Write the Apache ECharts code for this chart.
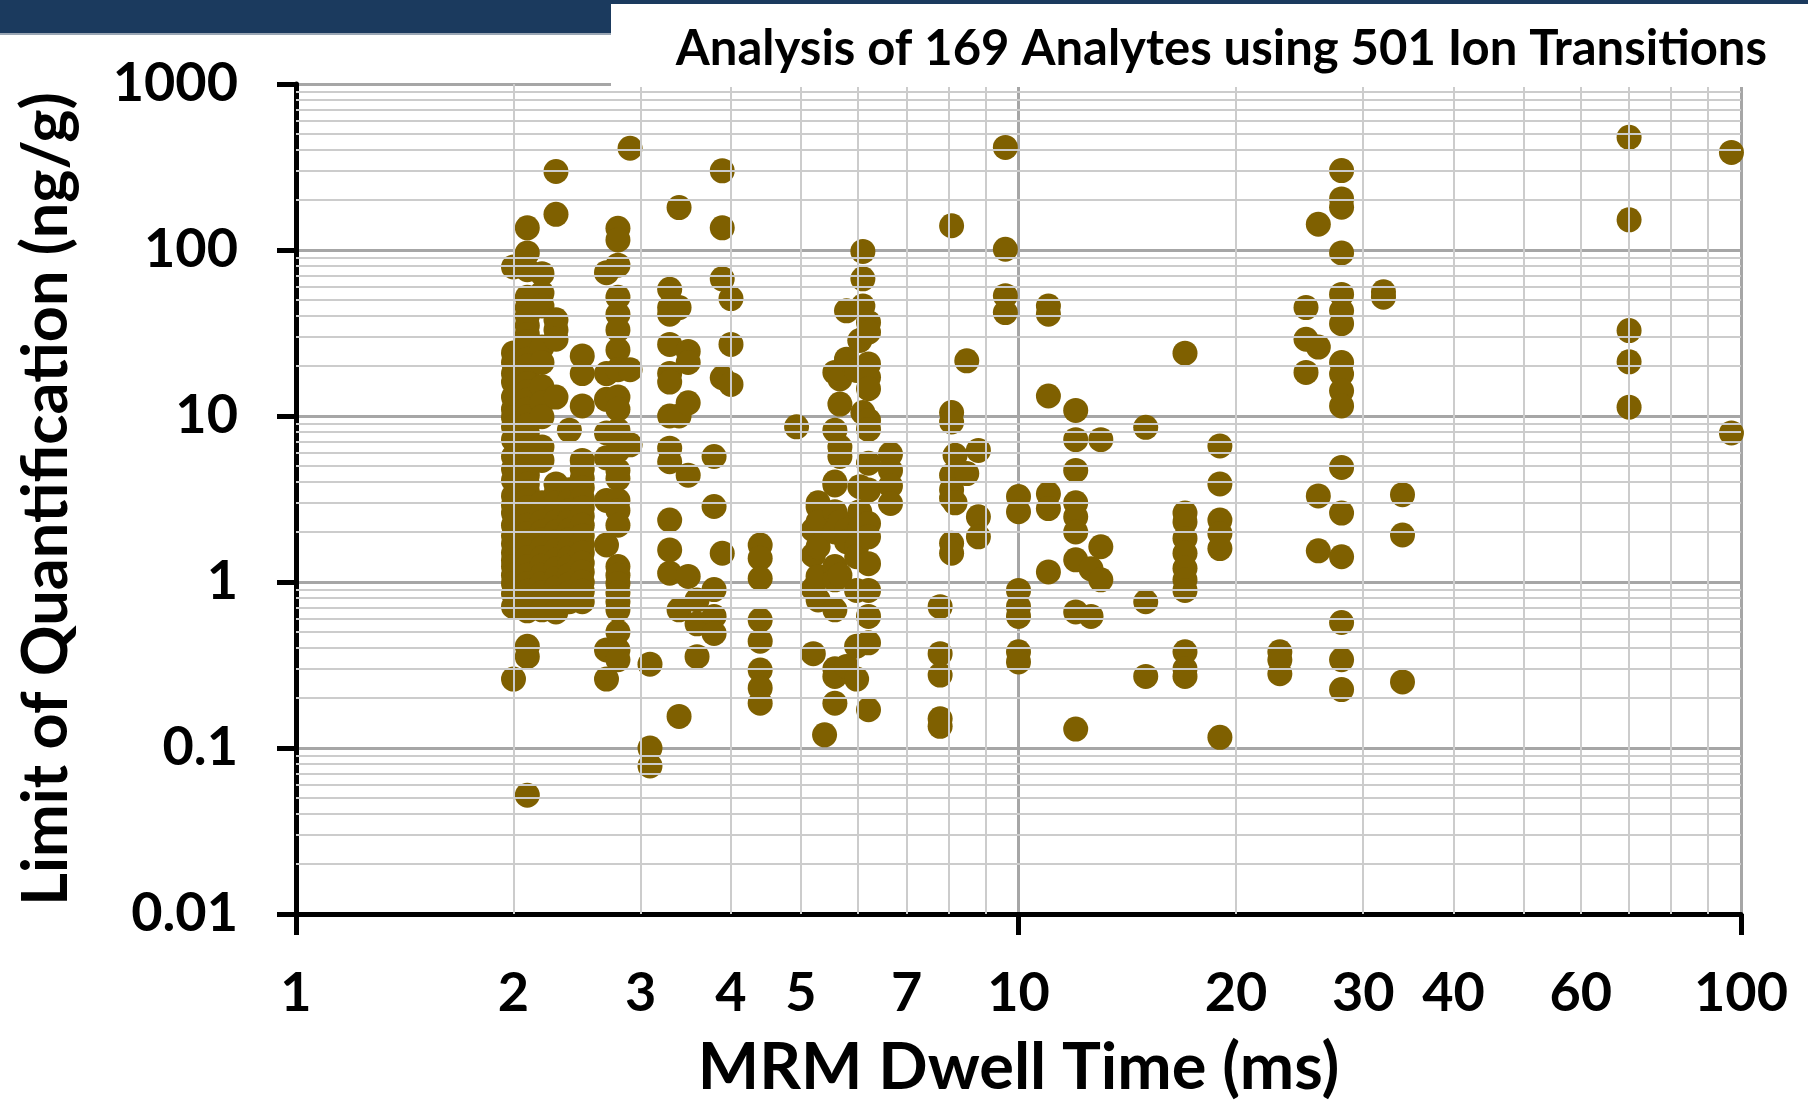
<!DOCTYPE html>
<html>
<head>
<meta charset="utf-8">
<title>LOQ vs MRM Dwell Time</title>
<script src="https://cdn.jsdelivr.net/npm/echarts@6/dist/echarts.min.js"></script>
<style>
  html, body { margin: 0; padding: 0; background: #fff; }
  #chart { width: 1808px; height: 1100px; }
</style>
</head>
<body>
<div id="chart"></div>
<script>
// dwell time (ms) of each column of points
const dwellTimes = [
  2.0, 2.09, 2.19, 2.29, 2.39, 2.49, 2.69, 2.79, 2.9, 3.09,
  3.29, 3.39, 3.49, 3.59, 3.79, 3.89, 4.0, 4.39, 4.93, 5.2,
  5.28, 5.39, 5.57, 5.66, 5.78, 5.97, 6.03, 6.09, 6.2, 6.65,
  7.79, 8.08, 8.17, 8.48, 8.8, 9.59, 10.0, 11.0, 12.0, 12.6,
  13.0, 15.0, 17.0, 19.0, 23.0, 25.0, 26.0, 28.0, 32.0, 34.0,
  70.0, 97.0
];

// limit of quantification (ng/g) for each dwell time above
const loqValues = [
  [79, 24, 21, 18, 16, 13, 11, 9.8, 8.6, 7.2, 5.7, 4.8, 4.1, 3.3, 2.9, 2.6, 2.2, 1.9, 1.7, 1.5, 1.35, 1.24, 1.1, 0.98, 0.85, 0.71, 0.26],
  [136, 96, 76, 52, 45, 40, 35, 31, 28, 25, 22, 20, 17.5, 15.7, 14, 12.5, 11, 9.9, 8.8, 7.9, 7, 6.2, 5.5, 5.0, 4.4, 3.9, 3.5, 3.1, 2.8, 2.5, 2.2, 1.96, 1.75, 1.56, 1.4, 1.24, 1.1, 0.98, 0.88, 0.78, 0.67, 0.41, 0.355, 0.052],
  [72, 55, 46, 26, 21, 15, 12, 9.9, 6.5, 5.4, 3.0, 2.6, 2.3, 2.0, 1.8, 1.6, 1.4, 1.25, 1.1, 0.98, 0.86, 0.76, 0.68],
  [297, 164, 38, 33, 29, 13, 3.9, 3.4, 3.0, 2.6, 2.3, 2.0, 1.75, 1.55, 1.35, 1.2, 1.05, 0.92, 0.8, 0.66],
  [8.2, 3.6, 3.1, 2.7, 2.35, 2.05, 1.8, 1.6, 1.4, 1.25, 1.1, 0.97, 0.86, 0.76],
  [23, 18, 11.5, 5.4, 4.8, 4.2, 3.7, 3.2, 2.8, 2.5, 2.2, 1.9, 1.7, 1.5, 1.3, 1.15, 1.0, 0.88, 0.76],
  [73, 18, 12.6, 7.9, 5.6, 3.1, 1.67, 0.39, 0.26],
  [135, 115, 81, 52, 41, 33, 25, 19, 13, 11, 8.2, 6.2, 4.7, 4.2, 3.1, 2.7, 2.2, 1.24, 1.1, 0.98, 0.86, 0.76, 0.68, 0.5, 0.39, 0.34],
  [410, 19, 6.7],
  [0.32, 0.1, 0.078],
  [58, 45, 41, 27, 18, 16, 10, 6.4, 5.3, 2.36, 1.56, 1.13],
  [180, 45, 10, 0.68, 0.155],
  [24.5, 21, 12, 4.4, 1.08],
  [0.78, 0.56, 0.355],
  [5.7, 2.85, 0.9, 0.62, 0.49],
  [300, 136, 67, 17, 1.49],
  [51, 27, 15.5],
  [1.67, 1.39, 1.05, 0.59, 0.44, 0.295, 0.23, 0.186],
  [8.6],
  [2.06, 1.45, 0.91, 0.37],
  [3.0, 2.84, 2.3, 1.63, 1.08, 0.78],
  [0.12],
  [18.3, 8.2, 4.0, 3.84, 2.65, 2.0, 1.24, 1.03, 0.68, 0.3, 0.27, 0.186],
  [16.7, 11.8, 6.5, 5.7, 2.3, 1.1],
  [43, 22, 2.06, 1.75, 0.31],
  [18.8, 1.63, 1.42, 0.89, 0.41, 0.26],
  [28.5, 3.75, 2.65, 2.1],
  [98, 67, 46, 10.5],
  [36.6, 32, 20.6, 17.1, 14.6, 9.4, 8.3, 5.2, 3.58, 2.25, 1.87, 1.29, 0.89, 0.62, 0.43, 0.17],
  [5.9, 4.7, 3.8, 2.97],
  [0.71, 0.37, 0.275, 0.15, 0.135],
  [140, 10.5, 9.2, 4.4, 3.6, 3.2, 1.71, 1.49],
  [5.8, 3.0],
  [21.5, 4.5],
  [6.2, 2.47, 1.87],
  [415, 101, 53, 42],
  [3.27, 2.65, 0.89, 0.71, 0.62, 0.38, 0.33],
  [46, 41, 13.2, 3.4, 2.77, 1.15],
  [10.8, 7.2, 4.7, 3.0, 2.47, 2.0, 1.36, 0.66, 0.13],
  [1.2, 0.62],
  [7.2, 1.63, 1.03],
  [8.55, 0.76, 0.27],
  [23.9, 2.6, 2.3, 1.83, 1.49, 1.21, 1.03, 0.89, 0.38, 0.3, 0.27],
  [6.6, 3.9, 2.36, 1.96, 1.59, 0.116],
  [0.38, 0.34, 0.28],
  [45, 29, 18.3],
  [143, 26, 3.3, 1.54],
  [301, 203, 181, 96, 54, 43, 36, 21, 17.9, 14.2, 11.5, 4.9, 2.6, 1.42, 0.57, 0.34, 0.225],
  [56, 52],
  [3.36, 1.92, 0.25],
  [477, 152, 32.7, 21.2, 11.3],
  [387, 7.9]
];

// labels shown under the x axis
const xTickLabels = [1, 2, 3, 4, 5, 7, 10, 20, 30, 40, 60, 100];

const FONT = 'Lato, "Open Sans", "DejaVu Sans", sans-serif';
const MARKER_COLOR = '#7f6000';

// flatten into [x, y] pairs for the scatter series
const points = [];
dwellTimes.forEach((t, i) => {
  loqValues[i].forEach(v => points.push([t, v]));
});

// minor grid lines at 2..9 of every decade
const xMinor = [];
for (let d = 1; d < 100; d *= 10) {
  for (let m = 2; m <= 9; m++) xMinor.push(m * d);
}
const yMinor = [];
for (let e = -2; e < 3; e++) {
  for (let m = 2; m <= 9; m++) yMinor.push(+(m * Math.pow(10, e)).toPrecision(3));
}

const chart = echarts.init(document.getElementById('chart'), null, { renderer: 'canvas' });

const option = {
  animation: false,
  backgroundColor: '#fff',
  title: {
    text: 'Analysis of 169 Analytes using 501 Ion Transitions',
    right: 36,
    top: 20,
    z: 20,
    textStyle: { fontFamily: FONT, fontSize: 49, fontWeight: 'bold', color: '#000' }
  },
  graphic: [
    { type: 'rect', z: 10, shape: { x: 0, y: 0, width: 1808, height: 33 }, style: { fill: '#1b3a5e' } },
    { type: 'rect', z: 10, shape: { x: 0, y: 33, width: 611, height: 2 }, style: { fill: '#9aa6b4' } },
    { type: 'rect', z: 11, shape: { x: 611, y: 4, width: 1197, height: 83 }, style: { fill: '#fff' } }
  ],
  grid: { left: 296, right: 67, top: 84, bottom: 186, outerBoundsMode: 'none', containLabel: false },
  xAxis: {
    type: 'log',
    logBase: 10,
    min: 1,
    max: 100,
    name: 'MRM Dwell Time (ms)',
    nameLocation: 'middle',
    nameGap: 122,
    nameTextStyle: { fontFamily: FONT, fontSize: 65, fontWeight: 'bold', color: '#000' },
    axisLine: { lineStyle: { color: '#000', width: 5 } },
    axisTick: { show: true, length: 21, lineStyle: { color: '#000', width: 5 } },
    axisLabel: { show: false },
    splitLine: { show: true, lineStyle: { color: '#a6a6a6', width: 3 } }
  },
  yAxis: {
    type: 'log',
    logBase: 10,
    min: 0.01,
    max: 1000,
    name: 'Limit of Quantification (ng/g)',
    nameLocation: 'middle',
    nameGap: 218,
    nameTextStyle: { fontFamily: FONT, fontSize: 63, fontWeight: 'bold', color: '#000' },
    axisLine: { lineStyle: { color: '#000', width: 5 } },
    axisTick: { show: true, length: 19, lineStyle: { color: '#000', width: 5 } },
    axisLabel: {
      margin: 58,
      fontFamily: FONT,
      fontSize: 54,
      fontWeight: 'bold',
      color: '#000',
      formatter: v => (v >= 1 ? String(Math.round(v)) : String(+v.toFixed(2)))
    },
    splitLine: { show: true, lineStyle: { color: '#a6a6a6', width: 3 } }
  },
  series: [
    {
      // minor grid
      name: 'minorGrid',
      type: 'scatter',
      data: [],
      z: 1,
      silent: true,
      clip: false,
      markLine: {
        silent: true,
        symbol: 'none',
        label: { show: false },
        lineStyle: { color: '#cccccc', width: 2, type: 'solid' },
        data: xMinor.map(v => ({ xAxis: v })).concat(yMinor.map(v => ({ yAxis: v })))
      }
    },
    {
      // x tick labels
      name: 'xTicks',
      type: 'scatter',
      data: [],
      z: 1,
      silent: true,
      clip: false,
      markLine: {
        silent: true,
        symbol: 'none',
        lineStyle: { color: 'rgba(0,0,0,0)', width: 0 },
        label: {
          show: true,
          position: 'start',
          distance: 53,
          formatter: p => String(p.value),
          fontFamily: FONT,
          fontSize: 54,
          fontWeight: 'bold',
          color: '#000',
          opacity: 1
        },
        data: xTickLabels.map(v => ({ xAxis: v }))
      }
    },
    {
      name: 'LOQ',
      type: 'scatter',
      z: 3,
      symbol: 'circle',
      symbolSize: 25,
      itemStyle: { color: MARKER_COLOR, opacity: 1 },
      data: points
    }
  ]
};

chart.setOption(option);
window.addEventListener('resize', () => chart.resize());
</script>
</body>
</html>
